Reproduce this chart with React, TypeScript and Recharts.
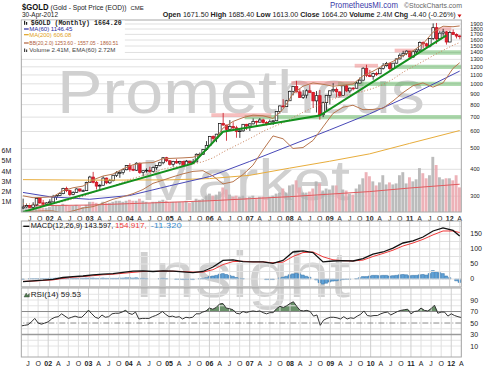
import React from 'react';
import {
  Area,
  Bar,
  Cell,
  ComposedChart,
  Line,
  ReferenceArea,
  ReferenceLine,
  XAxis,
  YAxis,
} from 'recharts';

// monthly candles, May 2001 .. Apr 2012 (132 months)
const OPEN = [
  264, 267, 271, 266, 273, 293, 279, 275,
  279, 282, 297, 302, 308, 326, 318, 305, 312, 324, 317, 318,
  347, 368, 348, 334, 337, 364, 346, 354, 375, 385, 386, 398,
  416, 400, 396, 427, 387, 394, 396, 391, 408, 416, 429, 453,
  438, 422, 435, 428, 435, 417, 436, 429, 433, 470, 470, 495,
  517, 569, 557, 583, 654, 643, 614, 633, 624, 599, 604, 648,
  636, 651, 669, 663, 679, 660, 650, 666, 673, 743, 789, 783,
  834, 923, 972, 917, 864, 886, 928, 912, 833, 881, 718, 817,
  884, 928, 943, 917, 884, 979, 927, 955, 954, 1008, 1040, 1182,
  1096, 1081, 1116, 1114, 1180, 1215, 1244, 1181, 1248, 1307, 1359, 1386,
  1421, 1333, 1411, 1439, 1556, 1536, 1500, 1628, 1826, 1620, 1722, 1746,
  1566, 1737, 1697, 1671.5,
];
const HIGH = [
  292, 275, 272, 281, 294, 294, 288, 281,
  290, 304, 305, 311, 328, 332, 321, 316, 326, 325, 322, 350,
  373, 389, 353, 342, 371, 366, 361, 377, 392, 394, 400, 418,
  427, 418, 431, 430, 395, 404, 411, 412, 417, 433, 455, 457,
  442, 438, 446, 438, 437, 442, 438, 447, 474, 479, 497, 541,
  572, 575, 585, 655, 732, 645, 678, 663, 638, 609, 649, 651,
  656, 690, 674, 693, 688, 670, 682, 675, 746, 793, 848, 842,
  930, 975, 1033, 950, 935, 943, 988, 918, 925, 936, 827, 885,
  930, 1007, 963, 924, 980, 990, 961, 967, 1025, 1072, 1195, 1227,
  1162, 1128, 1138, 1180, 1249, 1265, 1246, 1252, 1310, 1388, 1425, 1431,
  1424, 1412, 1448, 1577, 1577, 1553, 1632, 1912, 1921, 1764, 1804, 1763,
  1764, 1792, 1718, 1685.4,
];
const LOW = [
  262, 265, 264, 265, 271, 276, 272, 271,
  277, 281, 288, 300, 306, 313, 300, 303, 311, 313, 315, 317,
  346, 344, 322, 321, 336, 341, 342, 351, 368, 365, 378, 396,
  390, 392, 393, 381, 371, 386, 386, 387, 398, 412, 422, 432,
  416, 411, 424, 420, 414, 414, 418, 426, 432, 460, 467, 488,
  515, 538, 535, 582, 637, 543, 608, 612, 561, 560, 598, 610,
  603, 647, 637, 660, 652, 640, 647, 643, 671, 727, 774, 780,
  834, 884, 912, 862, 850, 856, 908, 772, 735, 681, 700, 741,
  802, 911, 866, 865, 883, 915, 906, 932, 952, 1003, 1035, 1075,
  1075, 1045, 1088, 1114, 1165, 1203, 1157, 1176, 1243, 1300, 1330, 1361,
  1308, 1322, 1381, 1417, 1462, 1478, 1478, 1600, 1535, 1604, 1670, 1523,
  1563, 1692, 1627, 1613,
];
const CLOSE = [
  267, 271, 266, 273, 293, 279, 275, 279,
  282, 297, 302, 308, 326, 318, 305, 312, 324, 317, 318, 347,
  368, 348, 334, 337, 364, 346, 354, 375, 385, 386, 398, 416,
  400, 396, 427, 387, 394, 396, 391, 408, 416, 429, 453, 438,
  422, 435, 428, 435, 417, 436, 429, 433, 470, 470, 495, 517,
  569, 557, 583, 654, 643, 614, 633, 624, 599, 604, 648, 636,
  651, 669, 663, 679, 660, 650, 666, 673, 743, 789, 783, 834,
  923, 972, 917, 864, 886, 928, 912, 833, 881, 718, 817, 884,
  928, 943, 917, 884, 979, 927, 955, 954, 1008, 1040, 1182, 1096,
  1081, 1116, 1114, 1180, 1215, 1244, 1181, 1248, 1307, 1359, 1386, 1421,
  1333, 1411, 1439, 1556, 1536, 1500, 1628, 1826, 1620, 1722, 1746, 1566,
  1737, 1697, 1669, 1664.2,
];
// volume in millions
const VOLUME = [
  0.5, 0.4, 0.4, 0.5, 0.7, 0.5, 0.4, 0.4,
  0.5, 0.7, 0.6, 0.6, 0.8, 0.7, 0.6, 0.6, 0.7, 0.6, 0.5, 0.7,
  1.0, 1.0, 0.9, 0.8, 1.0, 0.9, 0.9, 1.0, 1.1, 1.1, 1.0, 1.1,
  1.2, 1.1, 1.1, 1.3, 1.1, 1.0, 0.9, 1.0, 1.0, 1.1, 1.2, 1.1,
  1.0, 1.0, 1.0, 1.0, 1.0, 1.1, 0.9, 1.0, 1.3, 1.2, 1.3, 1.6,
  1.8, 1.6, 1.7, 2.0, 2.4, 2.2, 1.7, 1.5, 1.6, 1.5, 1.6, 1.4,
  1.5, 1.6, 1.4, 1.5, 1.5, 1.4, 1.5, 1.6, 1.8, 1.9, 2.3, 1.9,
  2.6, 2.7, 3.1, 2.4, 1.9, 1.9, 2.0, 2.3, 3.0, 2.8, 2.1, 2.3,
  2.2, 2.6, 2.6, 1.8, 2.2, 2.1, 1.8, 1.7, 2.3, 2.7, 3.3, 3.9,
  3.5, 3.0, 2.6, 2.9, 3.6, 2.7, 2.9, 2.7, 2.8, 3.6, 3.9, 2.8,
  3.4, 3.0, 3.2, 4.3, 3.8, 3.3, 3.6, 5.4, 4.6, 3.4, 3.2, 3.3,
  3.3, 3.1, 3.6, 2.41,
];
const RSI = [
  45, 46, 47, 52, 58, 50, 48, 50,
  52, 57, 60, 61, 66, 62, 58, 60, 62, 60, 60, 66,
  72, 66, 60, 58, 64, 60, 61, 66, 67, 67, 69, 72,
  67, 65, 69, 57, 58, 58, 58, 61, 63, 66, 70, 65,
  61, 62, 60, 61, 57, 60, 59, 60, 66, 66, 69, 71,
  76, 74, 77, 83, 84, 76, 75, 73, 67, 66, 70, 68,
  70, 71, 70, 71, 68, 66, 68, 68, 75, 79, 77, 80,
  84, 87, 79, 72, 71, 72, 70, 62, 64, 46, 55, 58,
  60, 60, 59, 57, 61, 57, 59, 58, 62, 65, 71, 63,
  62, 63, 63, 66, 68, 69, 64, 67, 70, 72, 73, 74,
  66, 70, 71, 76, 72, 71, 75, 81, 67, 69, 69, 62,
  66, 63, 61, 59.53,
];
const HIST = [
  -1, 0, 1, 1, 1, 1, 1, 1,
  2, 2, 3, 3, 3, 3, 2, 2, 2, 2, 2, 3,
  3, 3, 2, 2, 3, 2, 2, 2, 2, 3, 3, 4,
  4, 3, 4, 2, 2, 1, 0, 0, 0, 1, 2, 1,
  0, 0, -1, -1, -2, -1, -1, -2, 0, 1, 2, 4,
  8, 10, 12, 16, 18, 15, 12, 9, 5, 2, 1, 0,
  0, 0, 0, 0, 0, -2, -2, -2, 0, 3, 6, 9,
  14, 17, 19, 17, 13, 9, 6, 0, -3, -12, -17, -14,
  -10, -7, -6, -4, -2, -1, -1, 0, 1, 4, 8, 8,
  10, 12, 12, 11, 12, 12, 10, 11, 12, 14, 15, 14,
  11, 12, 12, 14, 15, 13, 18, 28, 24, 21, 18, 10,
  4, 0, -6, -11.32,
];

// smooth indicators, read at quarterly points (month index)
const QTR = [
  0, 3, 6, 9, 12, 15, 18, 21, 24, 27, 30, 33, 36, 39, 42, 45, 48, 51, 54, 57, 60, 63,
  66, 69, 72, 75, 78, 81, 84, 87, 90, 93, 96, 99, 102, 105, 108, 111, 114, 117, 120,
  123, 126, 129, 131,
];
const BB_UP = [
  301, 295, 296, 298, 318, 328, 334, 357, 372, 380, 402, 420, 428, 430, 448, 450, 452,
  455, 474, 535, 622, 668, 696, 715, 710, 690, 760, 900, 975, 1010, 995, 975, 985, 998,
  1090, 1145, 1215, 1272, 1355, 1425, 1535, 1740, 1855, 1845, 1860.51,
];
const BB_MID = [
  277, 275, 276, 277, 283, 291, 299, 312, 324, 334, 349, 363, 374, 386, 401, 409, 416,
  423, 434, 452, 481, 508, 536, 566, 601, 630, 657, 697, 737, 776, 811, 851, 880, 896,
  922, 952, 992, 1052, 1132, 1202, 1272, 1352, 1432, 1512, 1557.05,
];
const BB_LOW = [
  253, 255, 256, 256, 250, 256, 264, 268, 278, 290, 298, 308, 322, 344, 356, 369, 381,
  391, 394, 372, 342, 350, 378, 418, 492, 572, 555, 500, 505, 545, 630, 728, 778, 795,
  758, 760, 770, 832, 910, 980, 1010, 965, 1010, 1180, 1253.6,
];
const MACD = [
  -9, -6, -4, -1, 5, 8, 10, 14, 16, 18, 22, 26, 27, 25, 27, 26, 24, 21, 25, 40, 62, 64,
  58, 57, 57, 52, 62, 90, 94, 88, 57, 60, 61, 60, 68, 83, 90, 103, 120, 127, 140, 160,
  170, 162, 143.6,
];
const SIGNAL = [
  -8, -7, -5, -3, 2, 6, 8, 11, 14, 16, 19, 22, 25, 25, 26, 26, 25, 23, 23, 31, 48, 58,
  59, 57, 57, 54, 56, 75, 88, 90, 74, 64, 61, 60, 63, 75, 85, 96, 110, 120, 132, 147,
  160, 160, 154.9,
];

// [month index, value]
const MA60_PTS = [[0, 312], [8, 298], [20, 290], [32, 302], [44, 335], [56, 370], [68, 435], [80, 515], [92, 610], [104, 725], [116, 880], [131, 1146.45]];
const MA200_PTS = [[0, 358], [20, 356], [44, 357], [56, 362], [68, 375], [80, 405], [92, 436], [104, 472], [116, 528], [131, 606.08]];
const VOL_EMA_PTS = [[0, 0.6], [20, 0.68], [32, 0.82], [44, 0.95], [56, 1.1], [68, 1.3], [80, 1.5], [92, 1.75], [104, 2.0], [116, 2.35], [131, 2.72]];
const TREND_PTS = [[0, 253], [51, 426], [60, 598], [89, 712], [127, 1680]];

// hand drawn zones: [from month, to month, price]
const SUPPORT = [[67, 131, 700], [95, 131, 1000], [110, 131, 1200], [117, 131, 1400]];
const RESIST = [[57, 74, 715], [81, 99, 1010], [100, 106, 1215], [112, 117, 1430], [123, 128, 1800]];

const TICK_LABELS = [
  'J', 'O', '02', 'A', 'J', 'O', '03', 'A', 'J', 'O', '04', 'A', 'J', 'O', '05', 'A', 'J',
  'O', '06', 'A', 'J', 'O', '07', 'A', 'J', 'O', '08', 'A', 'J', 'O', '09', 'A', 'J', 'O',
  '10', 'A', 'J', 'O', '11', 'A', 'J', 'O', '12', 'A',
];
const TICK_IDX = TICK_LABELS.map((_, k) => 2 + 3 * k);
const TICK_MAP = new Map(TICK_IDX.map((v, k) => [v, TICK_LABELS[k]]));

const PRICE_TICKS = [300, 400, 500, 600, 700, 800, 900, 1000, 1100, 1200, 1300, 1400, 1500, 1600, 1700, 1800, 1900];
const VOL_TICKS = [1, 2, 3, 4, 5, 6];
const MACD_TICKS = [0, 50, 100, 150];
const MACD_GRID = [-25, 0, 25, 50, 75, 100, 125, 150, 175];
const RSI_TICKS = [10, 30, 50, 70, 90];
const RSI_GRID = [10, 20, 40, 60, 80, 90, 100];

const W = 490;
const H = 368;
const PL = 21.33;
const PR = 28.67;
const PRICE_DOMAIN = [253, 1983];
const FONT = '"Liberation Sans", Arial, sans-serif';
const abs: React.CSSProperties = { position: 'absolute', left: 0, top: 0 };

const pick = (pts: number[][], i: number) => {
  const p = pts.find((q) => q[0] === i);
  return p ? p[1] : null;
};
const pickQ = (vals: number[], i: number) => {
  const k = QTR.indexOf(i);
  return k >= 0 ? vals[k] : null;
};

const rows = CLOSE.map((c, i) => ({
  i,
  o: OPEN[i],
  h: HIGH[i],
  l: LOW[i],
  c,
  vol: VOLUME[i],
  rsi: RSI[i],
  hist: HIST[i],
  ma60: pick(MA60_PTS, i),
  ma200: pick(MA200_PTS, i),
  volEma: pick(VOL_EMA_PTS, i),
  trend: pick(TREND_PTS, i),
  bbUp: pickQ(BB_UP, i),
  bbMid: pickQ(BB_MID, i),
  bbLow: pickQ(BB_LOW, i),
  macd: pickQ(MACD, i),
  signal: pickQ(SIGNAL, i),
}));

function Candle(props: any) {
  const { x, y, width, height, payload } = props;
  if (!payload) return null;
  const { o, h, l, c } = payload;
  const span = Math.log(h) - Math.log(l) || 1;
  const py = (v: number) => y + (height * (Math.log(h) - Math.log(v))) / span;
  const up = c >= o;
  const cx = x + width / 2;
  const top = py(Math.max(o, c));
  const bot = py(Math.min(o, c));
  const color = up ? '#111' : '#c8101e';
  return (
    <g>
      <line x1={cx} x2={cx} y1={y} y2={y + height} stroke={color} strokeWidth={0.8} />
      <rect
        x={cx - 1.3}
        y={top}
        width={2.6}
        height={Math.max(bot - top, 0.8)}
        fill={up ? '#fff' : '#e5202e'}
        stroke={color}
        strokeWidth={0.7}
      />
    </g>
  );
}

function XTick(props: any) {
  const { x, y, payload } = props;
  const label = TICK_MAP.get(payload.value) ?? '';
  const year = /\d/.test(label);
  return (
    <text x={x} y={y + 7} textAnchor="middle" fontSize={7} fontFamily={FONT} fontWeight={year ? 'bold' : 'normal'} fill="#222">
      {label}
    </text>
  );
}

const yTick = { fontSize: 7, fill: '#222', fontFamily: FONT };
const priceTick = { fontSize: 5.6, fill: '#222', fontFamily: FONT };

function vGrid(stroke: string) {
  return TICK_IDX.map((v) => (
    <ReferenceLine key={'v' + v} x={v} stroke={TICK_MAP.get(v)!.length > 1 ? '#cfcfcf' : stroke} strokeWidth={1} />
  ));
}

export default function App() {
  return (
    <div style={{ ...abs, width: W, height: H, background: '#fff', overflow: 'hidden', fontFamily: FONT }}>
      {/* grid */}
      <ComposedChart width={W} height={H} data={rows} style={abs} margin={{ top: 20, right: PR, left: PL, bottom: 156 }}>
        <XAxis dataKey="i" hide />
        <YAxis yAxisId="price" hide scale="log" domain={PRICE_DOMAIN} allowDataOverflow />
        {PRICE_TICKS.map((v) => (
          <ReferenceLine key={v} yAxisId="price" y={v} stroke="#e0e0e0" />
        ))}
        {vGrid('#e0e0e0')}
      </ComposedChart>

      {/* watermark */}
      <svg width={W} height={H} style={abs}>
        <g fill="#d0d0d0" fontFamily={FONT}>
          <text x={57} y={113} fontSize={62} textLength={368} lengthAdjust="spacingAndGlyphs">Prometheus</text>
          <text x={140} y={200} fontSize={58} textLength={210} lengthAdjust="spacingAndGlyphs">Market</text>
          <text x={134} y={297} fontSize={64} textLength={216} lengthAdjust="spacingAndGlyphs">Insight</text>
        </g>
      </svg>

      {/* volume */}
      <ComposedChart width={W} height={H} data={rows} style={abs} margin={{ top: 20, right: PR, left: 0, bottom: 156 }}>
        <XAxis dataKey="i" hide />
        <YAxis yAxisId="vol" orientation="left" width={PL} domain={[0, 18.8]} ticks={VOL_TICKS} interval={0} tickFormatter={(v) => v + 'M'} tick={yTick} tickLine={false} axisLine={false} tickMargin={4} />
        <Bar yAxisId="vol" dataKey="vol" barSize={2.9} isAnimationActive={false}>
          {rows.map((r) => (
            <Cell key={r.i} fill={r.c < r.o ? '#eaa4ac' : '#b0b0b0'} fillOpacity={0.85} />
          ))}
        </Bar>
        <Line yAxisId="vol" dataKey="volEma" stroke="#e05a5e" strokeWidth={1} dot={false} connectNulls isAnimationActive={false} />
      </ComposedChart>

      {/* price */}
      <ComposedChart width={W} height={H} data={rows} style={abs} margin={{ top: 20, right: 0, left: PL, bottom: 147 }}>
        <XAxis
          dataKey="i"
          height={9}
          ticks={TICK_IDX}
          interval={0}
          tick={<XTick />}
          tickLine={false}
          axisLine={false}
          tickSize={0}
        />
        <YAxis yAxisId="price" orientation="right" width={PR} scale="log" domain={PRICE_DOMAIN} allowDataOverflow ticks={PRICE_TICKS} interval={0} tick={priceTick} tickLine={false} axisLine={false} tickMargin={3} />
        {SUPPORT.map(([a, b, p]) => (
          <ReferenceArea key={'s' + p} yAxisId="price" x1={a} x2={b} y1={p * 0.977} y2={p * 1.023} fill="#4cae4c" fillOpacity={0.45} stroke="none" />
        ))}
        {RESIST.map(([a, b, p]) => (
          <ReferenceArea key={'r' + p} yAxisId="price" x1={a} x2={b} y1={p * 0.98} y2={p * 1.02} fill="#f08080" fillOpacity={0.5} stroke="none" />
        ))}
        <Line yAxisId="price" dataKey="ma200" stroke="#e8ad3c" strokeWidth={1} dot={false} connectNulls isAnimationActive={false} />
        <Line yAxisId="price" dataKey="ma60" stroke="#4848b8" strokeWidth={1} dot={false} connectNulls isAnimationActive={false} />
        <Line yAxisId="price" dataKey="bbLow" stroke="#b8764e" strokeWidth={1} dot={false} connectNulls isAnimationActive={false} />
        <Line yAxisId="price" dataKey="bbUp" stroke="#b8764e" strokeWidth={1} dot={false} connectNulls isAnimationActive={false} />
        <Line yAxisId="price" dataKey="bbMid" stroke="#c8805a" strokeWidth={1} strokeDasharray="1 2" dot={false} connectNulls isAnimationActive={false} />
        <Line yAxisId="price" dataKey="trend" stroke="#14901e" strokeWidth={2} dot={false} connectNulls isAnimationActive={false} />
        <Bar yAxisId="price" dataKey={(d: any) => [d.l, d.h]} shape={<Candle />} isAnimationActive={false} />
      </ComposedChart>

      {/* MACD */}
      <ComposedChart width={W} height={H} data={rows} style={abs} margin={{ top: 221, right: 0, left: PL, bottom: 81 }}>
        <XAxis dataKey="i" hide />
        <YAxis orientation="right" width={PR} domain={[-26.7, 193.3]} ticks={MACD_TICKS} interval={0} tick={yTick} tickLine={false} axisLine={false} tickMargin={3} allowDataOverflow />
        {MACD_GRID.map((v) => (
          <ReferenceLine key={v} y={v} stroke="#e2e2e2" />
        ))}
        {vGrid('#e0e0e0')}
        <Bar dataKey="hist" fill="#5fa2d8" stroke="#2e6fa5" strokeWidth={0.5} barSize={3} isAnimationActive={false} />
        <Line dataKey="signal" stroke="#f03a3a" strokeWidth={1} dot={false} connectNulls isAnimationActive={false} />
        <Line dataKey="macd" stroke="#111" strokeWidth={1.3} dot={false} connectNulls isAnimationActive={false} />
      </ComposedChart>

      {/* RSI */}
      <ComposedChart width={W} height={H} data={rows} style={abs} margin={{ top: 288, right: 0, left: PL, bottom: 0 }}>
        <XAxis
          dataKey="i"
          height={11}
          ticks={TICK_IDX}
          interval={0}
          tick={<XTick />}
          tickLine={false}
          axisLine={false}
          tickSize={0}
        />
        <YAxis orientation="right" width={PR} domain={[-9.1, 110.9]} ticks={RSI_TICKS} interval={0} tick={yTick} tickLine={false} axisLine={false} tickMargin={3} allowDataOverflow />
        {RSI_GRID.map((v) => (
          <ReferenceLine key={v} y={v} stroke="#e4e4e4" />
        ))}
        {vGrid('#e0e0e0')}
        <ReferenceLine y={70} stroke="#8a8a8a" strokeWidth={1} />
        <ReferenceLine y={30} stroke="#9a9a9a" strokeWidth={1.5} />
        <ReferenceLine y={50} stroke="#8a8a8a" strokeDasharray="6 2 1 2" />
        <Area dataKey={(d: any) => [70, Math.max(d.rsi, 70)]} stroke="none" fill="#4f7e4f" fillOpacity={0.85} isAnimationActive={false} />
        <Line dataKey="rsi" stroke="#333" strokeWidth={1} dot={false} isAnimationActive={false} />
      </ComposedChart>

      {/* frames, header, legends */}
      <svg width={W} height={H} style={abs} fontFamily={FONT}>
        <g fill="none" stroke="#a8a8a8" strokeWidth={1}>
          <rect x={PL} y={20} width={440} height={192} />
          <rect x={PL} y={221} width={440} height={66} />
          <rect x={PL} y={288} width={440} height={69} />
        </g>
        <rect x={PL + 0.5} y={20.5} width={103} height={35} fill="#fff" />
        <text x={22} y={10} fontSize={9.5} fontWeight="bold" fill="#111" textLength={26.5} lengthAdjust="spacingAndGlyphs">$GOLD</text>
        <text x={50.5} y={10} fontSize={7} fill="#222" textLength={76} lengthAdjust="spacingAndGlyphs">(Gold - Spot Price (EOD))</text>
        <text x={130.5} y={10} fontSize={6} fill="#222">CME</text>
        <text x={22} y={16.8} fontSize={6.8} fill="#222" textLength={36} lengthAdjust="spacingAndGlyphs">30-Apr-2012</text>
        <text x={162.7} y={16.8} fontSize={7} fill="#222" textLength={293} lengthAdjust="spacingAndGlyphs">
          <tspan fontWeight="bold">Open</tspan> 1671.50 <tspan fontWeight="bold">High</tspan> 1685.40{' '}
          <tspan fontWeight="bold">Low</tspan> 1613.00 <tspan fontWeight="bold">Close</tspan> 1664.20{' '}
          <tspan fontWeight="bold">Volume</tspan> 2.4M <tspan fontWeight="bold">Chg</tspan> -4.40 (-0.26%)
        </text>
        <path d="M457.5 14.5 L461.5 14.5 L459.5 17.5 Z" fill="#d01010" />
        <text x={330} y={8.3} fontSize={8.5} fill="#3a3aa8" textLength={68} lengthAdjust="spacingAndGlyphs">PrometheusMI.com</text>
        <text x={404} y={8} fontSize={6.8} fill="#666" textLength={58} lengthAdjust="spacingAndGlyphs">©StockCharts.com</text>

        <g fontSize={6}>
          <rect x={24} y={20.8} width={1.2} height={4} fill="#222" />
          <rect x={26} y={22} width={1.2} height={2.8} fill="#222" />
          <text x={30.7} y={25} fontFamily='"Liberation Mono", monospace' fontWeight="bold" fontSize={6.6} fill="#222" textLength={91} lengthAdjust="spacingAndGlyphs">$GOLD (Monthly) 1664.20</text>
          <line x1={24} x2={28.7} y1={29} y2={29} stroke="#2828a0" strokeWidth={1.2} />
          <text x={29.3} y={31} fill="#2828a0" textLength={43} lengthAdjust="spacingAndGlyphs">MA(60) 1146.45</text>
          <line x1={24} x2={28.7} y1={34.7} y2={34.7} stroke="#e0a020" strokeWidth={1.2} />
          <text x={29.3} y={36.7} fill="#e0a020" textLength={42} lengthAdjust="spacingAndGlyphs">MA(200) 606.08</text>
          <line x1={24} x2={28.7} y1={43} y2={43} stroke="#b0603a" strokeWidth={1.2} />
          <text x={29.3} y={45} fill="#b0603a" textLength={89} lengthAdjust="spacingAndGlyphs">BB(20,2.0) 1253.60 - 1557.05 - 1860.51</text>
          <rect x={24} y={48.5} width={1.2} height={3.5} fill="#444" />
          <rect x={26} y={49.5} width={1.2} height={2.5} fill="#444" />
          <text x={29.3} y={52.3} fill="#444" textLength={86} lengthAdjust="spacingAndGlyphs">Volume 2.41M, EMA(60) 2.72M</text>
        </g>

        <g fontSize={6.5}>
          <line x1={23.3} x2={29.3} y1={226.3} y2={226.3} stroke="#111" strokeWidth={1.4} />
          <text x={30.7} y={228.3} fill="#111" textLength={82.6} lengthAdjust="spacingAndGlyphs">MACD(12,26,9) 143.597,</text>
          <text x={115} y={228.3} fill="#f03a3a" textLength={31.7} lengthAdjust="spacingAndGlyphs">154.917,</text>
          <text x={150.7} y={228.3} fill="#3b8fd0" textLength={31} lengthAdjust="spacingAndGlyphs">-11.320</text>
          <path d="M24 297 L26.2 293 L27.5 295.5 L29.3 293.5 L29.3 297 Z" fill="#4f7e4f" stroke="#333" strokeWidth={0.4} />
          <text x={30.7} y={297} fill="#222" textLength={50.3} lengthAdjust="spacingAndGlyphs">RSI(14) 59.53</text>
        </g>
      </svg>
    </div>
  );
}
